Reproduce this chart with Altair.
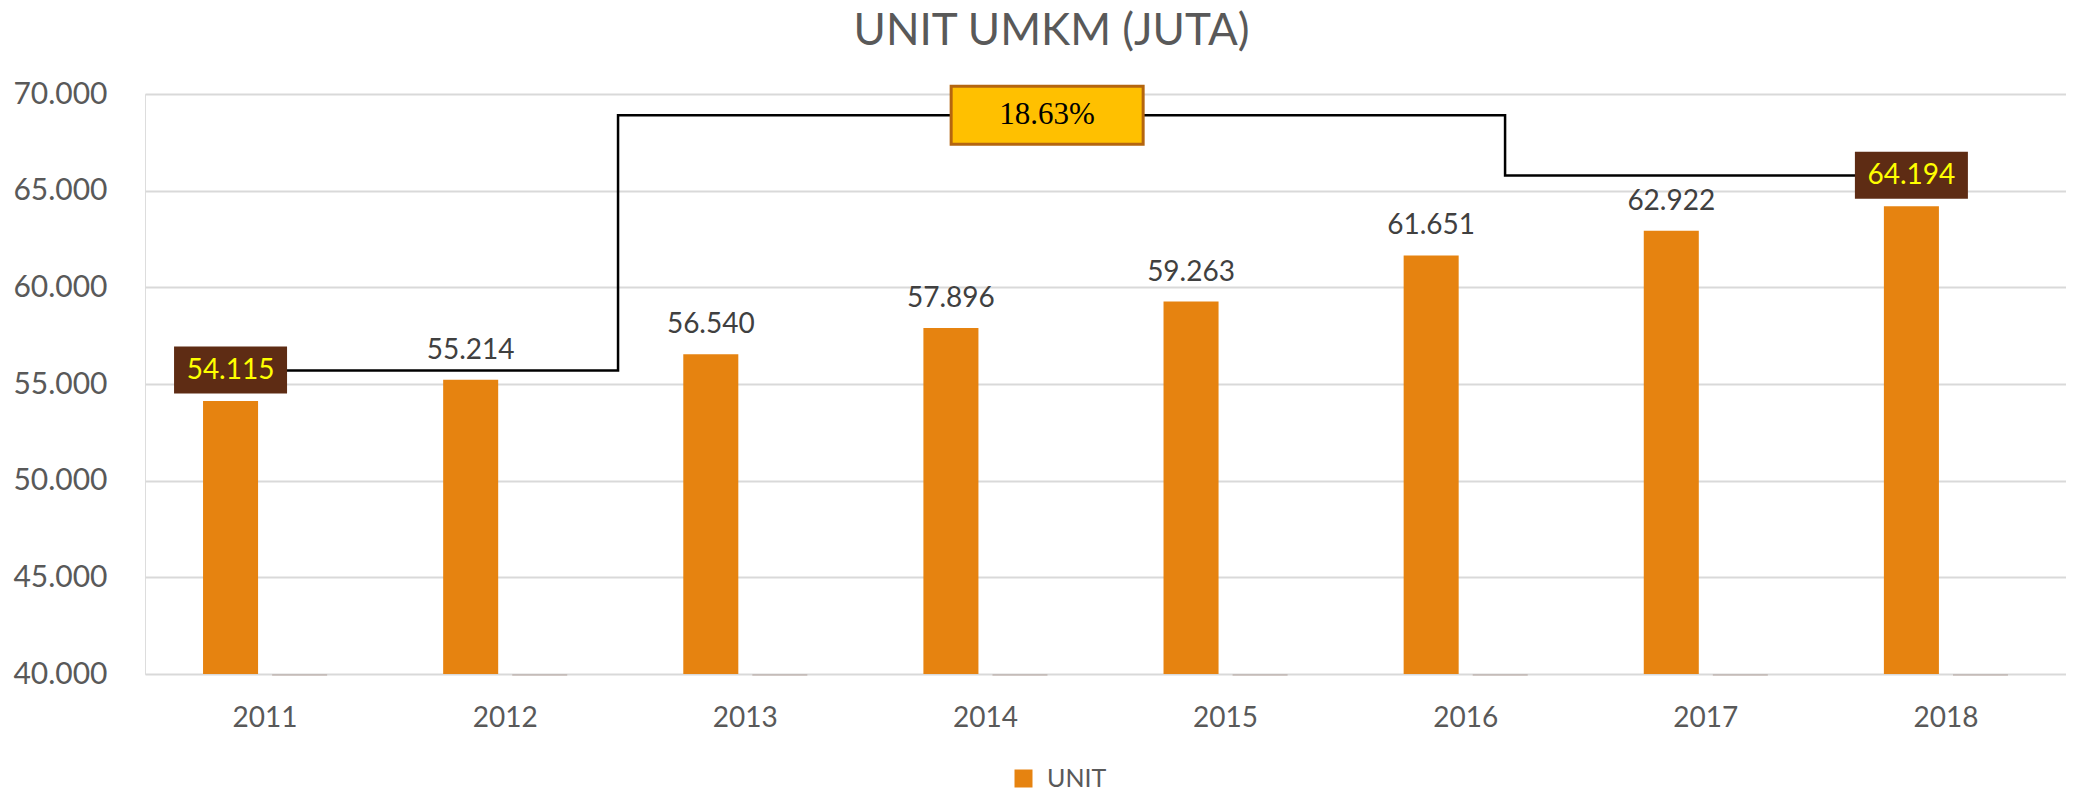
import altair as alt
import pandas as pd

# ---- data ----
years = ["2011", "2012", "2013", "2014", "2015", "2016", "2017", "2018"]
units = [54115, 55214, 56540, 57896, 59263, 61651, 62922, 64194]
hidden = [0, 0, 0, 0, 0, 0, 0, 0]
series_main = "UNIT"
series_hidden = "BANTU"
boxed_years = ["2011", "2018"]
y_ticks = [40000, 45000, 50000, 55000, 60000, 65000, 70000]
y_domain = [40000, 70000]

# connector (elbow) annotation, x in category units (0..8), y in data units
conn_x = [0.356, 1.970, 1.970, 5.664, 5.664, 7.356]
conn_y = [55700, 55700, 68900, 68900, 65780, 65780]
pct_x = [3.757]
pct_y = [68900]
pct_text = [f"{(units[-1] - units[0]) / units[0] * 100:.2f}%"]

ORANGE = "#E68310"
BOX_BROWN = "#5E2C14"
TXT_GRAY = "#595959"

df_main = pd.DataFrame({"year": years, "value": units, "series": series_main})
df_hidden = pd.DataFrame({"year": years, "value": hidden, "series": series_hidden})
df_conn = pd.DataFrame({"cx": conn_x, "value": conn_y, "i": list(range(len(conn_x)))})
df_pct = pd.DataFrame({"cx": pct_x, "value": pct_y, "t": pct_text})

fmt = "replace(format(datum.value, ',d'), ',', '.')"

x_scale = alt.Scale(domain=years, paddingInner=0.4833, paddingOuter=0.2417)
xo_scale = alt.Scale(domain=[series_main, series_hidden], paddingInner=0.203, paddingOuter=0)
y_scale = alt.Scale(domain=y_domain, clamp=True, zero=False, nice=False)

x_axis = alt.Axis(title=None, labelFont="Lato", labelFontSize=28, labelColor=TXT_GRAY,
                  ticks=False, domain=False, labelPadding=30, labelAngle=0, grid=False)
y_axis = alt.Axis(values=y_ticks, labelExpr=fmt, title=None, labelFont="Lato",
                  labelFontSize=30, labelColor=TXT_GRAY, labelPadding=38, ticks=False,
                  domain=False, gridColor="#D9D9D9", gridWidth=2)

bars = alt.Chart(df_main).mark_bar().encode(
    x=alt.X("year:N", scale=x_scale, axis=x_axis),
    xOffset=alt.XOffset("series:N", scale=xo_scale),
    y=alt.Y("value:Q", scale=y_scale, axis=y_axis),
    color=alt.Color("series:N", scale=alt.Scale(domain=[series_main], range=[ORANGE]),
                    legend=alt.Legend(title=None, orient="none", legendX=866, legendY=672,
                                      direction="horizontal", symbolType="square",
                                      symbolSize=324, symbolStrokeWidth=0,
                                      labelFont="Lato", labelFontSize=25,
                                      labelColor=TXT_GRAY, labelOffset=11)),
)

hidden_ticks = alt.Chart(df_hidden).mark_tick(orient="horizontal", size=55, thickness=1,
                                                color="#A08A80", yOffset=1).encode(
    x=alt.X("year:N", scale=x_scale, axis=x_axis),
    xOffset=alt.XOffset("series:N", scale=xo_scale),
    y=alt.Y("value:Q", scale=y_scale, axis=y_axis),
)

bars_layer = alt.layer(bars, hidden_ticks)

conn = alt.Chart(df_conn).mark_line(color="black", strokeWidth=2.5).encode(
    x=alt.X("cx:Q", scale=alt.Scale(domain=[0, 8], nice=False, zero=False), axis=None),
    y=alt.Y("value:Q"),
    order="i:Q",
)
pct_box = alt.Chart(df_pct).mark_point(
    shape="M-1,-0.302L1,-0.302L1,0.302L-1,0.302Z", size=192 * 192, filled=True,
    fill="#FFC000", stroke="#B4650F", strokeWidth=3, opacity=1).encode(
    x=alt.X("cx:Q", scale=alt.Scale(domain=[0, 8], nice=False, zero=False), axis=None),
    y=alt.Y("value:Q"),
)
pct_label = alt.Chart(df_pct).mark_text(font="Liberation Serif", fontSize=31,
                                        color="black", baseline="middle").encode(
    x=alt.X("cx:Q", scale=alt.Scale(domain=[0, 8], nice=False, zero=False), axis=None),
    y=alt.Y("value:Q"),
    text="t:N",
)
annot_layer = alt.layer(conn, pct_box, pct_label)

base_lab = alt.Chart(df_main).transform_calculate(label=fmt)
x_enc_na = alt.X("year:N", scale=x_scale, axis=None)
plain_labels = base_lab.transform_filter(
    ~alt.FieldOneOfPredicate(field="year", oneOf=boxed_years)
).mark_text(font="Lato", fontSize=28, color="#404040", baseline="middle", dy=-29).encode(
    x=x_enc_na, xOffset=alt.XOffset("series:N", scale=xo_scale),
    y=alt.Y("value:Q"), text="label:N",
)
boxes = base_lab.transform_filter(
    alt.FieldOneOfPredicate(field="year", oneOf=boxed_years)
).mark_point(shape="M-1,-0.416L1,-0.416L1,0.416L-1,0.416Z", size=113 * 113, filled=True,
             fill=BOX_BROWN, strokeWidth=0, opacity=1, yOffset=-31).encode(
    x=x_enc_na, xOffset=alt.XOffset("series:N", scale=xo_scale),
    y=alt.Y("value:Q"),
)
box_text = base_lab.transform_filter(
    alt.FieldOneOfPredicate(field="year", oneOf=boxed_years)
).mark_text(font="Lato", fontSize=28, color="#FFFF00", baseline="middle", dy=-30).encode(
    x=x_enc_na, xOffset=alt.XOffset("series:N", scale=xo_scale),
    y=alt.Y("value:Q"), text="label:N",
)
labels_layer = alt.layer(plain_labels, boxes, box_text)

chart = alt.layer(bars_layer, annot_layer, labels_layer).resolve_scale(
    x="independent"
).properties(
    width=1921, height=580,
    title=alt.TitleParams("UNIT UMKM (JUTA)", font="Lato", fontSize=44, fontWeight="normal",
                          color=TXT_GRAY, anchor="middle", baseline="alphabetic",
                          offset=-10, dx=-54),
    autosize=alt.AutoSizeParams(type="none"),
    padding={"left": 137, "top": 86, "right": 0, "bottom": 117},
    background="white",
).configure_view(stroke=None).configure(font="Lato")

chart.save("out.html", embed_options={"renderer": "svg", "actions": False})
